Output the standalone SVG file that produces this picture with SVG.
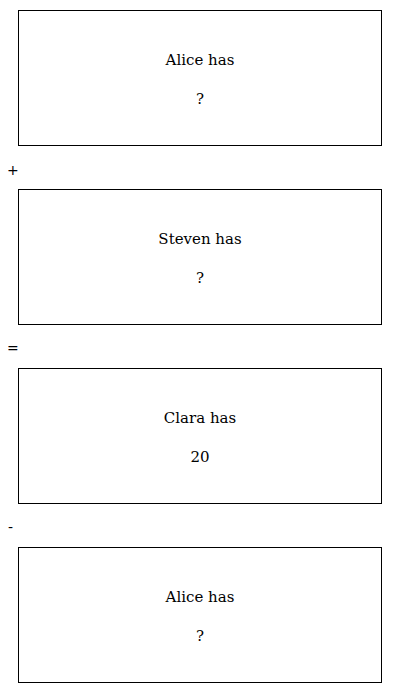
<svg xmlns="http://www.w3.org/2000/svg" width="400" height="693" viewBox="0 0 400 693">
<style>
.box{fill:#fff;stroke:#000;stroke-width:1}
.t{font-family:"DejaVu Serif","Liberation Serif",serif;font-size:15px;text-anchor:middle;fill:#000}
.op{font-family:"DejaVu Sans","Liberation Sans",sans-serif;font-size:14px;fill:#000}
</style>
<rect width="400" height="693" fill="#fff"/>
<g id="alice1">
<rect class="box" x="18.5" y="10.5" width="363" height="135"/>
<text class="t" x="200" y="65">Alice has</text>
<text class="t" x="200" y="104">?</text>
</g>
<g id="connectors">
<text class="op" x="7" y="175">+</text>
<text class="op" x="7" y="353">=</text>
<text class="op" x="8" y="532">-</text>
</g>
<g id="steven">
<rect class="box" x="18.5" y="189.5" width="363" height="135"/>
<text class="t" x="200" y="244">Steven has</text>
<text class="t" x="200" y="283">?</text>
</g>
<g id="clara">
<rect class="box" x="18.5" y="368.5" width="363" height="135"/>
<text class="t" x="200" y="423">Clara has</text>
<text class="t" x="200" y="462">20</text>
</g>
<g id="alice2">
<rect class="box" x="18.5" y="547.5" width="363" height="135"/>
<text class="t" x="200" y="602">Alice has</text>
<text class="t" x="200" y="641">?</text>
</g>
</svg>
